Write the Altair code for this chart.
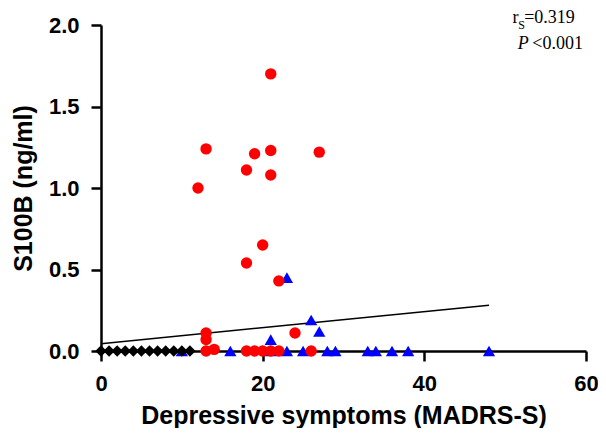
import altair as alt
import pandas as pd

# ---- data ----
red_x = [21, 13, 19, 21, 27, 18, 21, 12, 20, 18, 22, 24, 13, 13, 13, 14, 18, 19, 20, 21, 22, 26]
red_y = [1.70, 1.24, 1.21, 1.23, 1.22, 1.11, 1.08, 1.00, 0.65, 0.54, 0.43, 0.11, 0.11, 0.07, 0.0, 0.01, 0.0, 0.0, 0.0, 0.0, 0.0, 0.0]

blue_x = [23, 26, 27, 21, 10, 16, 21, 23, 25, 28, 29, 33, 34, 36, 38, 48]
blue_y = [0.45, 0.19, 0.12, 0.07, 0.0, 0.0, 0.0, 0.0, 0.0, 0.0, 0.0, 0.0, 0.0, 0.0, 0.0, 0.0]

black_x = [0, 1, 2, 3, 4, 5, 6, 7, 8, 9, 10, 11]
black_y = [0.0] * 12

fit_x = [0, 48]
fit_y = [0.045, 0.28]

x_ticks = [0, 20, 40, 60]
y_ticks = [0.0, 0.5, 1.0, 1.5, 2.0]

ann_text = ["r", "S", "=0.319", "P", "<0.001"]
ann_x = [50.9, 51.62, 52.35, 51.55, 53.35]
ann_y = [2.012, 1.975, 2.012, 1.853, 1.853]
ann_size = [18, 12, 18, 18, 18]
ann_style = ["normal", "normal", "normal", "italic", "normal"]

red = pd.DataFrame({"x": red_x, "y": red_y})
blue = pd.DataFrame({"x": blue_x, "y": blue_y})
black = pd.DataFrame({"x": black_x, "y": black_y})
fit = pd.DataFrame({"x": fit_x, "y": fit_y})
ann = pd.DataFrame({"t": ann_text, "x": ann_x, "y": ann_y, "s": ann_size, "st": ann_style})

xscale = alt.Scale(domain=[0, 60], nice=False, zero=False)
yscale = alt.Scale(domain=[0, 2], nice=False, zero=False)

xenc = alt.X("x:Q", scale=xscale, axis=alt.Axis(
    values=x_ticks, title="Depressive symptoms (MADRS-S)", grid=False, labelFlush=False,
    labelFontSize=22, titleFontSize=25, labelPadding=12, titlePadding=9))
yenc = alt.Y("y:Q", scale=yscale, axis=alt.Axis(
    values=y_ticks, format=".1f", title="S100B (ng/ml)", grid=False, labelFlush=False,
    labelFontSize=22, titleFontSize=25, labelPadding=12, titlePadding=12))

line = alt.Chart(fit).mark_line(color="black", strokeWidth=1.5, clip=False).encode(x=xenc, y=yenc)
pb = alt.Chart(blue).mark_point(shape="triangle-up", filled=True, color="#0000FF",
                                 size=150, opacity=1, clip=False).encode(x=xenc, y=yenc)
pr = alt.Chart(red).mark_point(shape="circle", filled=True, color="#FF0000",
                                size=130, opacity=1, clip=False).encode(x=xenc, y=yenc)
pk = alt.Chart(black).mark_point(shape="diamond", filled=True, color="black",
                                  size=130, opacity=1, clip=False).encode(x=xenc, y=yenc)

texts = []
for i in range(len(ann_text)):
    texts.append(
        alt.Chart(ann.iloc[[i]]).mark_text(
            align="left", baseline="alphabetic", font="Liberation Serif",
            fontSize=ann_size[i], fontStyle=ann_style[i], color="black", clip=False
        ).encode(x=alt.X("x:Q", scale=xscale), y=alt.Y("y:Q", scale=yscale), text="t:N")
    )

chart = alt.layer(line, pb, pr, pk, *texts).properties(
    width=485, height=326,
    autosize=alt.AutoSizeParams(type="none"),
    padding={"left": 93, "top": 17, "right": 12, "bottom": 77},
).configure_view(stroke=None).configure_axis(
    labelFont="Liberation Sans", titleFont="Liberation Sans",
    labelFontWeight="bold", titleFontWeight="bold",
    labelColor="black", titleColor="black",
    domainColor="black", domainWidth=2.5, tickColor="black", tickWidth=2.5, tickSize=10,
)

chart.save("out.html", embed_options={"renderer": "svg", "actions": False})
